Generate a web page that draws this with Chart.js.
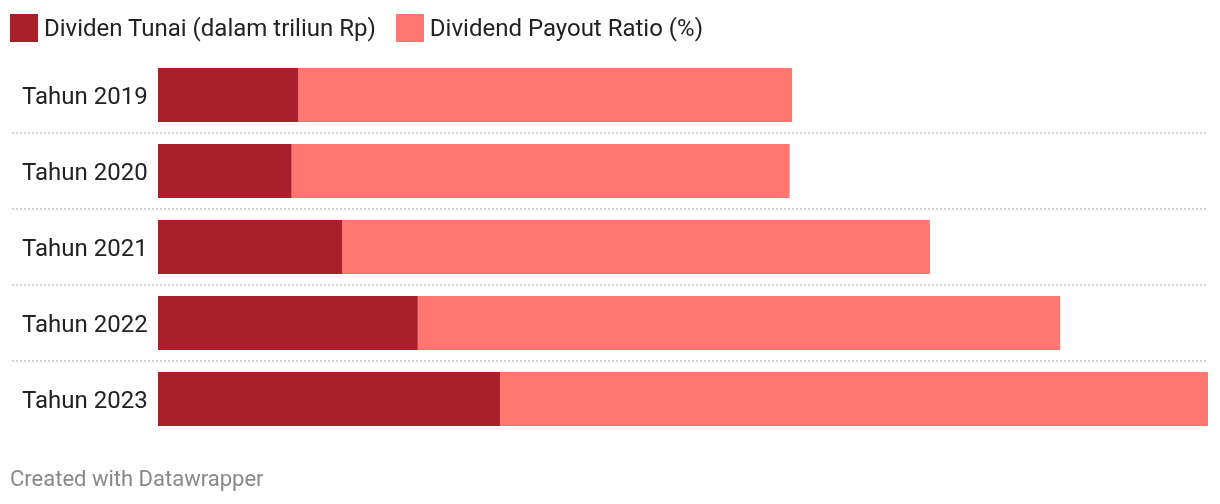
<!DOCTYPE html>
<html>
<head>
<meta charset="utf-8">
<script src="https://cdn.jsdelivr.net/npm/chart.js@4.4.1/dist/chart.umd.min.js"></script>
<style>
    html, body { margin: 0; padding: 0; background: #fff; }
    body { width: 1220px; height: 504px; position: relative; overflow: hidden; font-family: Roboto, "Noto Sans", sans-serif; }
    #legend { position: absolute; left: 10px; top: 14px; display: flex; align-items: center; }
    .item { display: flex; align-items: center; margin-right: 20px; }
    .swatch { width: 28px; height: 28px; margin-right: 6px; }
    .item span { font-size: 24px; color: #222; line-height: 28px; }
    #footer { position: absolute; left: 10px; top: 466px; font-size: 22px; color: #888; }
    #wrap { position: absolute; left: 0; top: 0; width: 1220px; height: 504px; }
</style>
</head>
<body>
<div id="wrap"><canvas id="chart"></canvas></div>
<div id="legend"></div>
<div id="footer">Created with Datawrapper</div>
<script>
(function(){
    "use strict";

    // values
    const years = ['Tahun 2019', 'Tahun 2020', 'Tahun 2021', 'Tahun 2022', 'Tahun 2023'];
    const dividenTunai = [16.9, 16.1, 22.2, 31.3, 41.2];
    const payoutRatio = [59.5, 60.0, 70.8, 77.4, 85.3];
    const seriesNames = ['Dividen Tunai (dalam triliun Rp)', 'Dividend Payout Ratio (%)'];
    const seriesColors = ['#a91f2c', '#ff7770'];

    // html legend, Datawrapper style
    const legend = document.getElementById('legend');
    seriesNames.forEach((name, i) => {
        legend.innerHTML += `<div class="item"><div class="swatch" style="background:${seriesColors[i]}"></div><span>${name}</span></div>`;
    });

    // dotted separators between the rows
    const separators = {
        id: 'separators',
        beforeDatasetsDraw(chart) {
            const ctx = chart.ctx;
            const ys = chart.scales.y;
            ctx.save();
            ctx.strokeStyle = '#d4d4d4';
            ctx.lineWidth = 2;
            ctx.setLineDash([2, 2]);
            for (let i = 0; i < years.length - 1; i++) {
                const y = Math.round((ys.getPixelForValue(i) + ys.getPixelForValue(i + 1)) / 2);
                ctx.beginPath();
                ctx.moveTo(12, y);
                ctx.lineTo(chart.chartArea.right, y);
                ctx.stroke();
            }
            ctx.restore();
        }
    };

    const ctx = document.getElementById('chart').getContext('2d');
    new Chart(ctx, {
        type: 'bar',
        data: {
            labels: years,
            datasets: [{
                label: seriesNames[0],
                data: dividenTunai,
                backgroundColor: seriesColors[0],
                borderWidth: 0
            }, {
                label: seriesNames[1],
                data: payoutRatio,
                backgroundColor: seriesColors[1],
                borderWidth: 0
            }]
        },
        options: {
            indexAxis: 'y',
            responsive: true,
            maintainAspectRatio: false,
            animation: false,
            barPercentage: 0.71,
            categoryPercentage: 1,
            layout: { padding: { top: 57, bottom: 67, left: 22, right: 12 } },
            scales: {
                x: {
                    stacked: true,
                    display: false,
                    min: 0,
                    max: dividenTunai[4] + payoutRatio[4]
                },
                y: {
                    stacked: true,
                    grid: { display: false },
                    border: { display: false },
                    ticks: {
                        crossAlign: 'far',
                        padding: 0,
                        labelOffset: 3,
                        color: '#222',
                        font: { family: 'Roboto', size: 24 }
                    },
                    afterFit: (scale) => { scale.width = 136; }
                }
            },
            plugins: {
                legend: { display: false },
                tooltip: { enabled: false }
            }
        },
        plugins: [separators]
    });
})();
</script>
</body>
</html>
